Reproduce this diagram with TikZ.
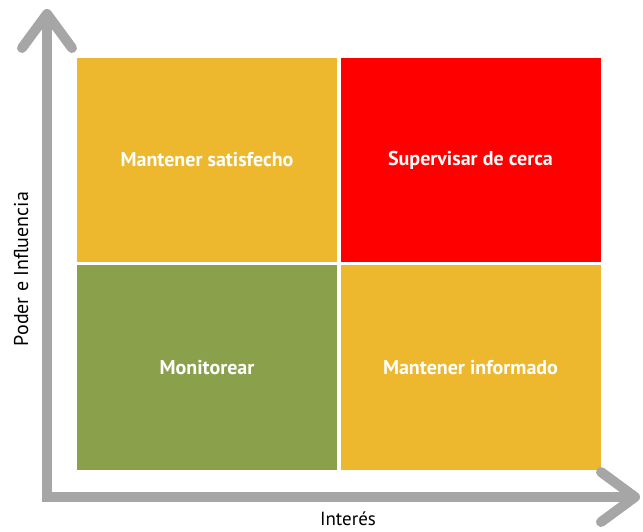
\documentclass[tikz,border=0pt]{standalone}
\usepackage{fontspec}
\setmainfont{PT Sans}
\usetikzlibrary{positioning, arrows.meta}
\definecolor{ambar}{HTML}{EEB82E}
\definecolor{rojo}{HTML}{FF0000}
\definecolor{oliva}{HTML}{8BA04B}
\definecolor{eje}{HTML}{A6A6A6}
\tikzstyle{q} = [rectangle, minimum width=260pt, minimum height=204pt, inner sep=0pt, outer sep=0pt, text=white, font=\fontsize{20}{22}\selectfont\bfseries]
\tikzstyle{axis} = [draw=eje, line width=10pt, line join=miter, {Straight Barb[length=34pt, width=50pt, round]}-{Straight Barb[length=34pt, width=50pt, round]}]

\begin{document}
\begin{tikzpicture}[x=1pt, y=1pt, node distance=3.5pt and 3.5pt]
    \useasboundingbox (0,0) rectangle (643,531);

    % Quadrants
    \node[q, fill=ambar] (MS) at (207,371) {Mantener satisfecho};
    \node[q, fill=rojo, right=of MS] (SC) {Supervisar de cerca};
    \node[q, fill=oliva, below=of MS] (MO) {Monitorear};
    \node[q, fill=ambar, below=of SC] (MI) {Mantener informado};

    % Axes
    \coordinate (O) at (47,34);
    \coordinate (Ytop) at (47,522);
    \coordinate (Xend) at (640,34);
    \draw[axis] (Ytop) -- (O) -- (Xend);

    \node[rotate=90, font=\fontsize{20}{22}\selectfont] (Ylab) at (21,262) {Poder e Influencia};
    \node[font=\fontsize{19}{21}\selectfont] (Xlab) at (348,12) {Interés};
\end{tikzpicture}
\end{document}
